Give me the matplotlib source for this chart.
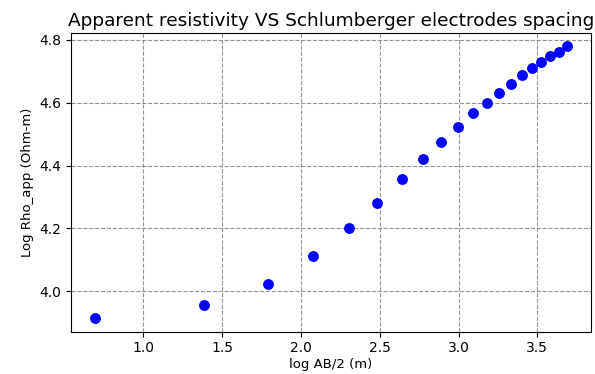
import numpy as np
import matplotlib
matplotlib.use("Agg")
import matplotlib.pyplot as plt

# half electrode spacing AB/2 (m)
ab_half = [2, 4, 6, 8, 10, 12, 14, 16, 18, 20,
           22, 24, 26, 28, 30, 32, 34, 36, 38, 40]
# log apparent resistivity
log_rho = [3.915, 3.956, 4.024, 4.112, 4.203, 4.282, 4.356, 4.421, 4.474, 4.523,
           4.566, 4.600, 4.631, 4.661, 4.687, 4.710, 4.728, 4.748, 4.762, 4.780]

log_ab = np.log(ab_half)

fig = plt.figure(figsize=(5.95, 3.74), dpi=100)
ax = fig.add_axes([0.1198, 0.1131, 0.873, 0.800])

ax.plot(log_ab, log_rho, 'bo', markersize=6.8)
ax.grid(True, color='gray', linestyle='--', linewidth=0.8, alpha=0.85)

ax.set_title("Apparent resistivity VS Schlumberger electrodes spacing", fontsize=13.3, pad=5)
ax.set_xlabel("log AB/2 (m)", fontsize=9.5, labelpad=2)
ax.set_ylabel("Log Rho_app (Ohm-m)", fontsize=9.5)
ax.tick_params(labelsize=10)

fig.savefig("out.png", dpi=100)
